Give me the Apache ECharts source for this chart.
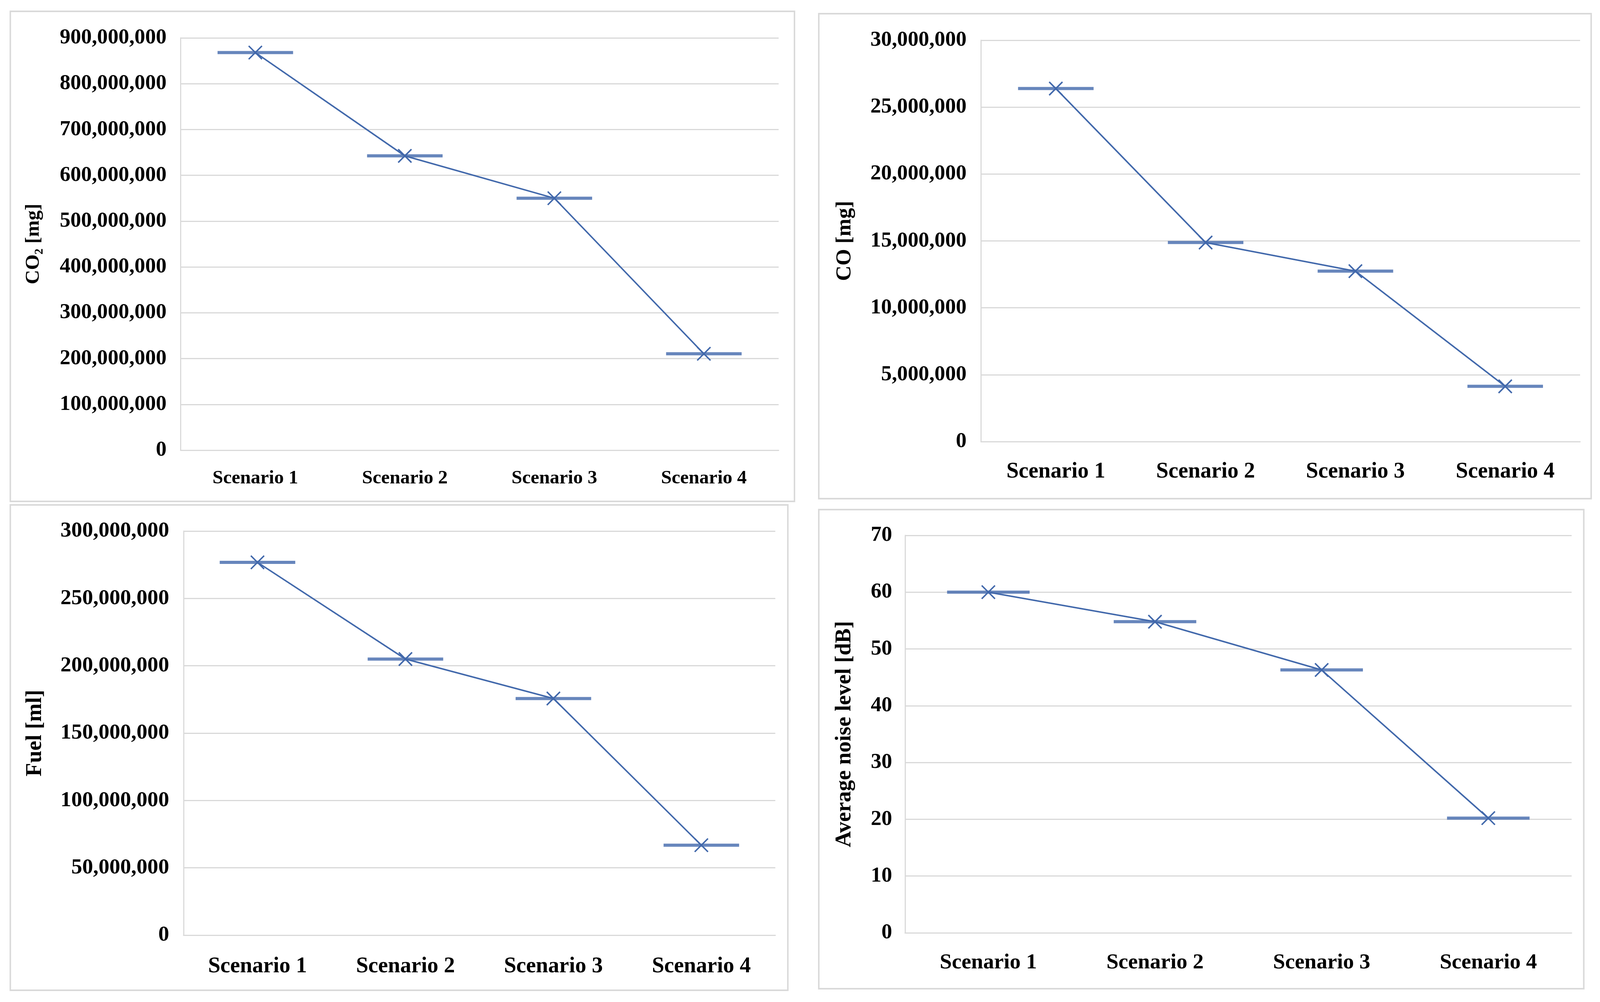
<!DOCTYPE html>
<html>
<head>
<meta charset="utf-8">
<script src="https://cdn.jsdelivr.net/npm/echarts@6/dist/echarts.min.js"></script>
<style>
html,body{margin:0;padding:0;background:#fff;overflow:hidden;}
#chart{width:100vw;height:100vh;}
</style>
</head>
<body>
<div id="chart"></div>
<script>
const categories = ['Scenario 1', 'Scenario 2', 'Scenario 3', 'Scenario 4'];
const co2Values = [868000000, 642500000, 550000000, 210500000];
const coValues = [26390000, 14880000, 12740000, 4130000];
const fuelValues = [276800000, 205000000, 175700000, 66800000];
const noiseValues = [60.0, 54.8, 46.3, 20.2];

const co2Ticks = { min: 0, max: 900000000, interval: 100000000 };
const coTicks = { min: 0, max: 30000000, interval: 5000000 };
const fuelTicks = { min: 0, max: 300000000, interval: 50000000 };
const noiseTicks = { min: 0, max: 70, interval: 10 };

const axisTitles = ['CO\u2082 [mg]', 'CO [mg]', 'Fuel [ml]', 'Average noise level [dB]'];

const BLUE = '#4168AB';
const GRAY = '#d9d9d9';
const FONT = '"Liberation Serif", "DejaVu Serif", serif';

// map design pixels (4342 x 2564) onto the actual viewport
const SX = window.innerWidth / 4342;
const SY = window.innerHeight / 2564;
const X = v => v * SX;
const Y = v => v * SY;
const F = v => v * SX;

const panels = [
  { grid: [490, 97, 1623, 1055], ticks: co2Ticks, data: co2Values, title: axisTitles[0],
    yFont: 58, xFont: 52, tFont: 54, yMargin: 38, xMargin: 48, nameGap: 372, dash: 205 },
  { grid: [2662, 103, 1626, 1027], ticks: coTicks, data: coValues, title: axisTitles[1],
    yFont: 58, xFont: 60, tFont: 58, yMargin: 39, xMargin: 49, nameGap: 340, dash: 205 },
  { grid: [498, 1359, 1606, 1034], ticks: fuelTicks, data: fuelValues, title: axisTitles[2],
    yFont: 59, xFont: 60, tFont: 60, yMargin: 39, xMargin: 52, nameGap: 372, dash: 205 },
  { grid: [2456, 1370, 1809, 1017], ticks: noiseTicks, data: noiseValues, title: axisTitles[3],
    yFont: 58, xFont: 59, tFont: 60, yMargin: 35, xMargin: 49, nameGap: 134, dash: 224 }
];

const frames = [
  [28, 29, 2128, 1254],
  [2222, 35, 2096, 1241],
  [28, 1292, 2110, 1242],
  [2222, 1304, 2076, 1226]
];

const fmt = v => Number(v).toLocaleString('en-US');

const option = {
  animation: false,
  backgroundColor: '#ffffff',
  graphic: frames.map(f => ({
    type: 'rect',
    shape: { x: X(f[0]), y: Y(f[1]), width: X(f[2]), height: Y(f[3]) },
    style: { fill: 'none', stroke: GRAY, lineWidth: X(4) }
  })),
  grid: panels.map(p => ({ left: X(p.grid[0]), top: Y(p.grid[1]), width: X(p.grid[2]), height: Y(p.grid[3]), containLabel: false })),
  xAxis: panels.map((p, i) => ({
    type: 'category',
    gridIndex: i,
    data: categories,
    boundaryGap: true,
    axisLine: { show: true, lineStyle: { color: GRAY, width: X(3) } },
    axisTick: { show: false },
    splitLine: { show: false },
    axisLabel: { color: '#000', fontFamily: FONT, fontWeight: 'bold', fontSize: F(p.xFont), margin: Y(p.xMargin) }
  })),
  yAxis: panels.map((p, i) => ({
    type: 'value',
    gridIndex: i,
    min: p.ticks.min,
    max: p.ticks.max,
    interval: p.ticks.interval,
    name: p.title,
    nameLocation: 'middle',
    nameRotate: 90,
    nameGap: X(p.nameGap),
    nameTextStyle: { color: '#000', fontFamily: FONT, fontWeight: 'bold', fontSize: F(p.tFont) },
    axisLine: { show: true, lineStyle: { color: GRAY, width: X(3) } },
    axisTick: { show: false },
    splitLine: { show: true, lineStyle: { color: GRAY, width: Y(3) } },
    axisLabel: { color: '#000', fontFamily: FONT, fontWeight: 'bold', fontSize: F(p.yFont), margin: X(p.yMargin), formatter: fmt }
  })),
  series: panels.flatMap((p, i) => [
    {
      type: 'scatter',
      xAxisIndex: i,
      yAxisIndex: i,
      data: p.data,
      symbol: 'rect',
      symbolSize: [X(p.dash), Y(8)],
      itemStyle: { color: BLUE },
      z: 2
    },
    {
      type: 'line',
      xAxisIndex: i,
      yAxisIndex: i,
      data: p.data,
      symbol: 'path://M0,0L10,10M10,0L0,10',
      symbolSize: [X(36), Y(34)],
      showSymbol: true,
      lineStyle: { color: BLUE, width: X(4) },
      itemStyle: { color: 'rgba(0,0,0,0)', borderColor: BLUE, borderWidth: X(4) },
      z: 3
    }
  ])
};

const chart = echarts.init(document.getElementById('chart'));
chart.setOption(option);
</script>
</body>
</html>
